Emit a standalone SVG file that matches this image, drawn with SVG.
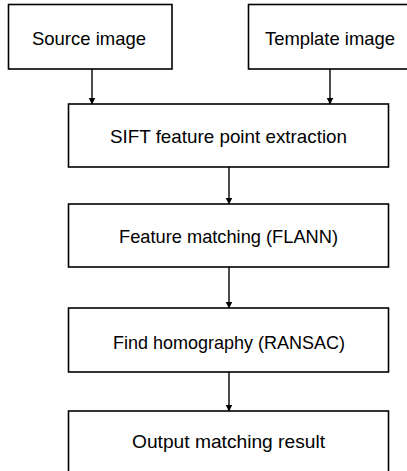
<svg xmlns="http://www.w3.org/2000/svg" width="407" height="471" viewBox="0 0 407 471">
<style>
.box{fill:#fff;stroke:#000;stroke-width:1.6}
.lbl{font-family:"Liberation Sans",Arial,sans-serif;font-size:19px;fill:#000;text-anchor:middle}
.edge{stroke:#000;stroke-width:1.4;fill:none;marker-end:url(#ah)}
</style>
<defs>
<marker id="ah" markerWidth="7" markerHeight="8" refX="6.5" refY="4" orient="auto" markerUnits="userSpaceOnUse" viewBox="0 0 7 8">
<path d="M0,0.5 L7,4 L0,7.5 Z" fill="#000"/>
</marker>
</defs>
<rect width="407" height="471" fill="#fff"/>
<g id="connectors">
<line class="edge" x1="92" y1="69" x2="92" y2="104"/>
<line class="edge" x1="330" y1="69" x2="330" y2="104"/>
<line class="edge" x1="229" y1="167" x2="229" y2="204"/>
<line class="edge" x1="229" y1="267" x2="229" y2="308"/>
<line class="edge" x1="229" y1="372" x2="229" y2="411"/>
</g>
<g id="source">
<rect class="box" x="8.5" y="4.5" width="163.5" height="64.5"/>
<text class="lbl" x="89" y="45" textLength="114" lengthAdjust="spacingAndGlyphs">Source image</text>
</g>
<g id="template">
<rect class="box" x="248.5" y="4.5" width="170" height="64.5"/>
<text class="lbl" x="330" y="45" textLength="130" lengthAdjust="spacingAndGlyphs">Template image</text>
</g>
<g id="sift">
<rect class="box" x="68.5" y="104" width="320" height="63"/>
<text class="lbl" x="228.5" y="143" textLength="237" lengthAdjust="spacingAndGlyphs">SIFT feature point extraction</text>
</g>
<g id="flann">
<rect class="box" x="68.5" y="204" width="320" height="63"/>
<text class="lbl" x="228.5" y="243" textLength="219" lengthAdjust="spacingAndGlyphs">Feature matching (FLANN)</text>
</g>
<g id="ransac">
<rect class="box" x="68.5" y="308" width="320" height="64"/>
<text class="lbl" x="229" y="349" textLength="232" lengthAdjust="spacingAndGlyphs">Find homography (RANSAC)</text>
</g>
<g id="output">
<rect class="box" x="68.5" y="411" width="320" height="70"/>
<text class="lbl" x="228.5" y="448" textLength="193" lengthAdjust="spacingAndGlyphs">Output matching result</text>
</g>
</svg>
